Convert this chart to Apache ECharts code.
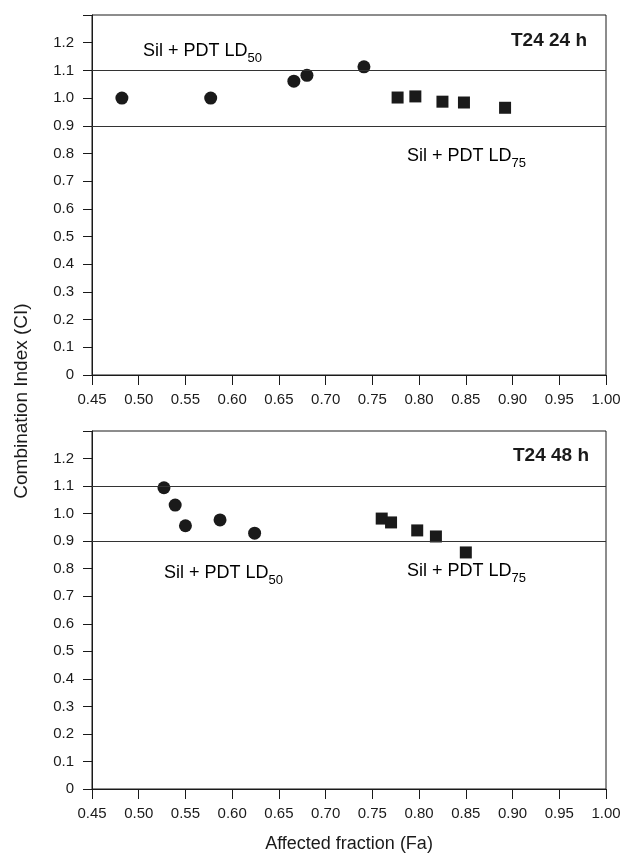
<!DOCTYPE html>
<html>
<head>
<meta charset="utf-8">
<script src="https://cdn.jsdelivr.net/npm/echarts@6/dist/echarts.min.js"></script>
<style>
  html, body { margin: 0; padding: 0; background: #fff; }
  #chart { width: 624px; height: 854px; }
</style>
</head>
<body>
<div id="chart"></div>
<script>
// T24 24 h
const fa24Ld50 = [0.482, 0.577, 0.666, 0.680, 0.741];
const ci24Ld50 = [1.000, 1.000, 1.061, 1.082, 1.113];
const fa24Ld75 = [0.777, 0.796, 0.825, 0.848, 0.892];
const ci24Ld75 = [1.002, 1.006, 0.987, 0.984, 0.965];
// T24 48 h
const fa48Ld50 = [0.527, 0.539, 0.550, 0.587, 0.624];
const ci48Ld50 = [1.094, 1.031, 0.956, 0.977, 0.929];
const fa48Ld75 = [0.760, 0.770, 0.798, 0.818, 0.850];
const ci48Ld75 = [0.982, 0.968, 0.939, 0.917, 0.859];
// additivity band
const refLines = [1.1, 0.9];
// axes
const xMin = 0.45, xMax = 1.0, xStep = 0.05;
const yMin = 0, yMax = 1.3, yStep = 0.1;

const font = "'Liberation Sans', Arial, sans-serif";
const ink = '#1a1a1a';

const pairs = (xs, ys) => xs.map((x, i) => [x, ys[i]]);

const xAxisCfg = (gi) => ({
  type: 'value', gridIndex: gi, min: xMin, max: xMax, interval: xStep,
  axisLine: { lineStyle: { color: ink, width: 1 } },
  axisTick: { length: 10, lineStyle: { color: ink } },
  splitLine: { show: false },
  axisLabel: { color: ink, fontSize: 15, fontFamily: font, margin: 17,
    formatter: v => v.toFixed(2) },
  name: gi === 1 ? 'Affected fraction (Fa)' : '',
  nameLocation: 'middle', nameGap: 46,
  nameTextStyle: { color: ink, fontSize: 18, fontFamily: font }
});

const yAxisCfg = (gi) => ({
  type: 'value', gridIndex: gi, min: yMin, max: yMax, interval: yStep,
  axisLine: { lineStyle: { color: ink, width: 1 } },
  axisTick: { length: 9, lineStyle: { color: ink } },
  splitLine: { show: false },
  axisLabel: { color: ink, fontSize: 15, fontFamily: font, margin: 18,
    formatter: v => v > 1.25 ? '' : (v === 0 ? '0' : v.toFixed(1)) }
});

const band = {
  silent: true, symbol: 'none',
  lineStyle: { color: '#333', width: 1, type: 'solid' },
  label: { show: false },
  data: refLines.map(v => ({ yAxis: v }))
};

const dots = (name, gi, xs, ys, shape, size, withBand) => ({
  name, type: 'scatter', xAxisIndex: gi, yAxisIndex: gi,
  symbol: shape, symbolSize: size,
  itemStyle: { color: ink, opacity: 1 },
  data: pairs(xs, ys),
  markLine: withBand ? band : undefined
});

const rich = {
  a: { fontSize: 18, fontFamily: font, color: ink, lineHeight: 28 },
  s: { fontSize: 13, fontFamily: font, color: ink, lineHeight: 13, verticalAlign: 'bottom' }
};
const note = (x, y, sub) => ({
  type: 'text', left: x, top: y - 14,
  style: { text: '{a|Sil + PDT LD}{s|' + sub + '}', rich }
});
const tag = (right, y, text) => ({
  type: 'text', right: right, top: y - 11,
  style: { text, fill: ink, fontSize: 19, fontWeight: 'bold', fontFamily: font }
});

const option = {
  backgroundColor: '#fff',
  animation: false,
  grid: [
    { left: 92, right: 18, top: 15, height: 360, show: true, borderColor: ink, borderWidth: 1 },
    { left: 92, right: 18, top: 431, height: 360, show: true, borderColor: ink, borderWidth: 1 }
  ],
  xAxis: [xAxisCfg(0), xAxisCfg(1)],
  yAxis: [yAxisCfg(0), yAxisCfg(1)],
  series: [
    dots('LD50 24h', 0, fa24Ld50, ci24Ld50, 'circle', 13, true),
    dots('LD75 24h', 0, fa24Ld75, ci24Ld75, 'rect', 12, false),
    dots('LD50 48h', 1, fa48Ld50, ci48Ld50, 'circle', 13, true),
    dots('LD75 48h', 1, fa48Ld75, ci48Ld75, 'rect', 12, false)
  ],
  graphic: [
    note(143, 56, '50'),
    note(407, 161, '75'),
    note(164, 578, '50'),
    note(407, 576, '75'),
    tag(37, 42, 'T24 24 h'),
    tag(35, 457, 'T24 48 h'),
    {
      type: 'text', x: 22, y: 401, rotation: Math.PI / 2,
      style: { text: 'Combination Index (CI)', fill: ink, fontSize: 19, fontFamily: font,
        align: 'center', verticalAlign: 'middle' }
    }
  ]
};

const chart = echarts.init(document.getElementById('chart'), null, { renderer: 'canvas' });
chart.setOption(option);
</script>
</body>
</html>
